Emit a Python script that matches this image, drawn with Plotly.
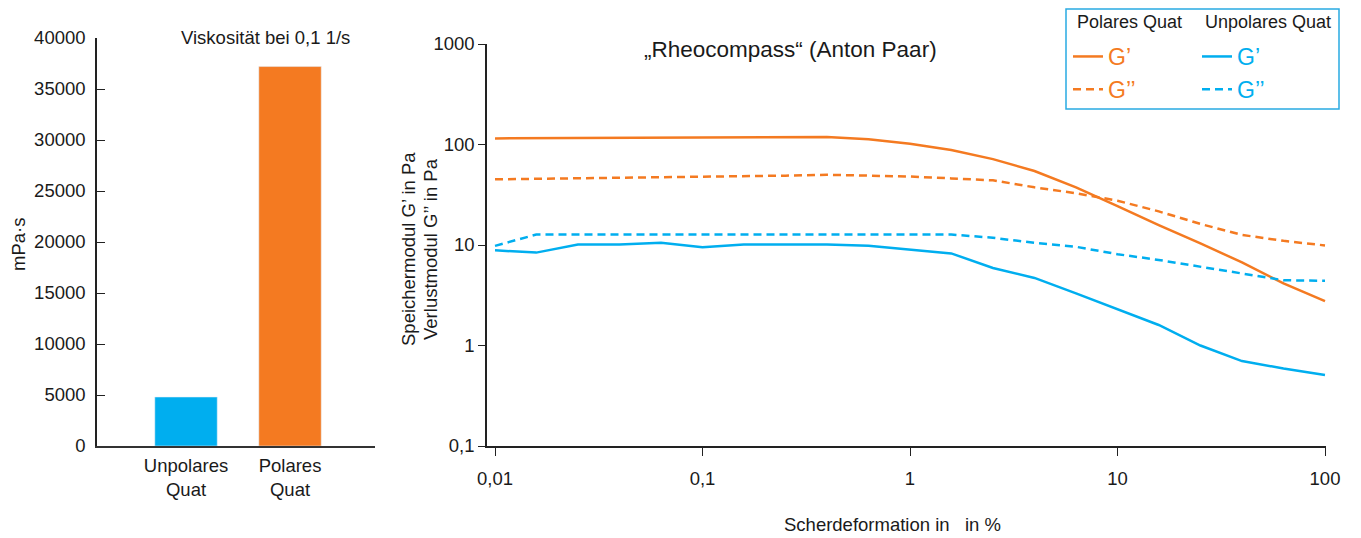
import plotly.graph_objects as go

# page body has an 8px margin, so the figure is sized to fit inside the window
W, H = 1353, 530
OFF = 8
FONT = "Liberation Sans, Arial, Helvetica, sans-serif"
ORANGE = "#F47A21"
BLUE = "#00AEEF"
INK = "#1a1a1a"

# ---- data: left bar chart ----
bar_categories = ["Unpolares<br>Quat", "Polares<br>Quat"]
bar_values = [4800, 37200]
bar_colors = [BLUE, ORANGE]
bar_ticks = [0, 5000, 10000, 15000, 20000, 25000, 30000, 35000, 40000]

# ---- data: right line chart (shear strain in %) ----
strain = [0.01, 0.0158, 0.0251, 0.0398, 0.0631, 0.1, 0.158, 0.251, 0.398, 0.631,
          1.0, 1.58, 2.51, 3.98, 6.31, 10, 15.8, 25.1, 39.8, 63.1, 100]
polar_G1 = [115, 115.5, 116, 116.5, 117, 117.5, 118, 118.5, 119, 113,
            102, 88, 71.5, 54.5, 37.5, 24.4, 15.8, 10.4, 6.7, 4.15, 2.77]
polar_G2 = [45, 45.5, 46, 46.5, 47, 47.5, 48, 49, 50, 49,
            48, 46, 44, 37.5, 32.7, 27.6, 21.6, 16.2, 12.6, 11.0, 9.9]
unpolar_G1 = [8.85, 8.4, 10.1, 10.1, 10.5, 9.5, 10.1, 10.05, 10.1, 9.85,
              8.95, 8.25, 5.9, 4.7, 3.3, 2.3, 1.6, 1.0, 0.70, 0.59, 0.51]
unpolar_G2 = [9.8, 12.7, 12.7, 12.7, 12.7, 12.7, 12.7, 12.7, 12.7, 12.7,
              12.7, 12.7, 11.8, 10.5, 9.6, 8.1, 7.1, 6.1, 5.26, 4.46, 4.4]
x_tickvals = [0.01, 0.1, 1, 10, 100]
x_ticktext = ["0,01", "0,1", "1", "10", "100"]
y_tickvals = [0.1, 1, 10, 100, 1000]
y_ticktext = ["0,1", "1", "10", "100", "1000"]


def px(x):
    return (x - OFF) / W


def py(y):
    return 1 - (y - OFF) / H


fig = go.Figure()

fig.add_trace(go.Bar(x=bar_categories, y=bar_values, marker_color=bar_colors,
                     width=0.6, showlegend=False, xaxis="x", yaxis="y"))

fig.add_trace(go.Scatter(x=strain, y=polar_G1, mode="lines", name="G’",
                         line=dict(color=ORANGE, width=2.5), xaxis="x2", yaxis="y2",
                         legend="legend", legendgroup="a"))
fig.add_trace(go.Scatter(x=strain, y=polar_G2, mode="lines", name="G’’",
                         line=dict(color=ORANGE, width=2.5, dash="8px,5px"), xaxis="x2", yaxis="y2",
                         legend="legend", legendgroup="b"))
fig.add_trace(go.Scatter(x=strain, y=unpolar_G1, mode="lines", name="G’",
                         line=dict(color=BLUE, width=2.5), xaxis="x2", yaxis="y2",
                         legend="legend2", legendgroup="c"))
fig.add_trace(go.Scatter(x=strain, y=unpolar_G2, mode="lines", name="G’’",
                         line=dict(color=BLUE, width=2.5, dash="8px,5px"), xaxis="x2", yaxis="y2",
                         legend="legend2", legendgroup="d"))

FS = 18.5
tickfont = dict(family=FONT, size=FS, color=INK)

fig.update_layout(
    width=W, height=H,
    margin=dict(l=0, r=0, t=0, b=0, autoexpand=False),
    paper_bgcolor="white", plot_bgcolor="white",
    font=dict(family=FONT, size=FS, color=INK),
    xaxis=dict(domain=[px(97), px(375)], range=[-0.856, 1.817], showline=True,
               linecolor="#333", linewidth=2, ticks="", tickfont=tickfont,
               ticklabelstandoff=2,
               showgrid=False, zeroline=False, anchor="y", automargin=False),
    yaxis=dict(domain=[py(446), py(38)], range=[0, 40000], tickvals=bar_ticks,
               tickformat="d", ticklabelstandoff=6,
               showline=True, linecolor="#222", linewidth=1.5, ticks="inside",
               ticklen=8, tickcolor="#222", showgrid=False, zeroline=False,
               tickfont=tickfont, anchor="x", automargin=False),
    xaxis2=dict(domain=[px(487), px(1326)], type="log", range=[-2.0386, 2.0048],
                tickvals=x_tickvals, ticktext=x_ticktext, showline=True,
                linecolor="#222", linewidth=1.5, ticks="outside", ticklen=8,
                tickcolor="#222", showgrid=False, zeroline=False, tickfont=tickfont,
                ticklabelstandoff=7, anchor="y2", automargin=False),
    yaxis2=dict(domain=[py(446), py(44)], type="log", range=[-1, 3],
                tickvals=y_tickvals, ticktext=y_ticktext, showline=True,
                linecolor="#222", linewidth=1.5, ticks="outside", ticklen=7,
                tickcolor="#222", showgrid=False, zeroline=False, tickfont=tickfont,
                anchor="x2", automargin=False),
    legend=dict(x=px(1068), y=py(35), xanchor="left", yanchor="top",
                bgcolor="rgba(0,0,0,0)", borderwidth=0,
                font=dict(family=FONT, size=23, color=ORANGE),
                itemwidth=30, tracegroupgap=0),
    legend2=dict(x=px(1197), y=py(35), xanchor="left", yanchor="top",
                 bgcolor="rgba(0,0,0,0)", borderwidth=0,
                 font=dict(family=FONT, size=23, color=BLUE),
                 itemwidth=30, tracegroupgap=0),
    shapes=[dict(type="rect", xref="paper", yref="paper",
                 x0=px(1066), x1=px(1339), y0=py(109), y1=py(9),
                 line=dict(color="#29ABE2", width=1.5))],
    annotations=[
        dict(text="Polares Quat", x=px(1075), y=py(22), xref="paper", yref="paper",
             showarrow=False, xanchor="left", yanchor="middle", font=dict(size=18)),
        dict(text="Unpolares Quat", x=px(1203), y=py(22), xref="paper", yref="paper",
             showarrow=False, xanchor="left", yanchor="middle", font=dict(size=18)),
        dict(text="Viskosität bei 0,1 1/s", x=px(265), y=py(38), xref="paper", yref="paper",
             showarrow=False, xanchor="center", yanchor="middle", font=dict(size=FS)),
        dict(text="mPa·s", x=px(18), y=py(245), xref="paper", yref="paper", textangle=-90,
             showarrow=False, xanchor="center", yanchor="middle", font=dict(size=FS)),
        dict(text="„Rheocompass“ (Anton Paar)", x=px(790), y=py(50), xref="paper", yref="paper",
             showarrow=False, xanchor="center", yanchor="middle", font=dict(size=22.5)),
        dict(text="Speichermodul G’ in Pa", x=px(408), y=py(249), xref="paper", yref="paper",
             textangle=-90, showarrow=False, xanchor="center", yanchor="middle", font=dict(size=FS)),
        dict(text="Verlustmodul G’’ in Pa", x=px(430), y=py(249), xref="paper", yref="paper",
             textangle=-90, showarrow=False, xanchor="center", yanchor="middle", font=dict(size=FS)),
        dict(text="Scherdeformation in \u00a0\u00a0in %", x=px(892), y=py(524), xref="paper", yref="paper",
             showarrow=False, xanchor="center", yanchor="middle", font=dict(size=FS)),
    ],
)

fig.write_html("out.html")
